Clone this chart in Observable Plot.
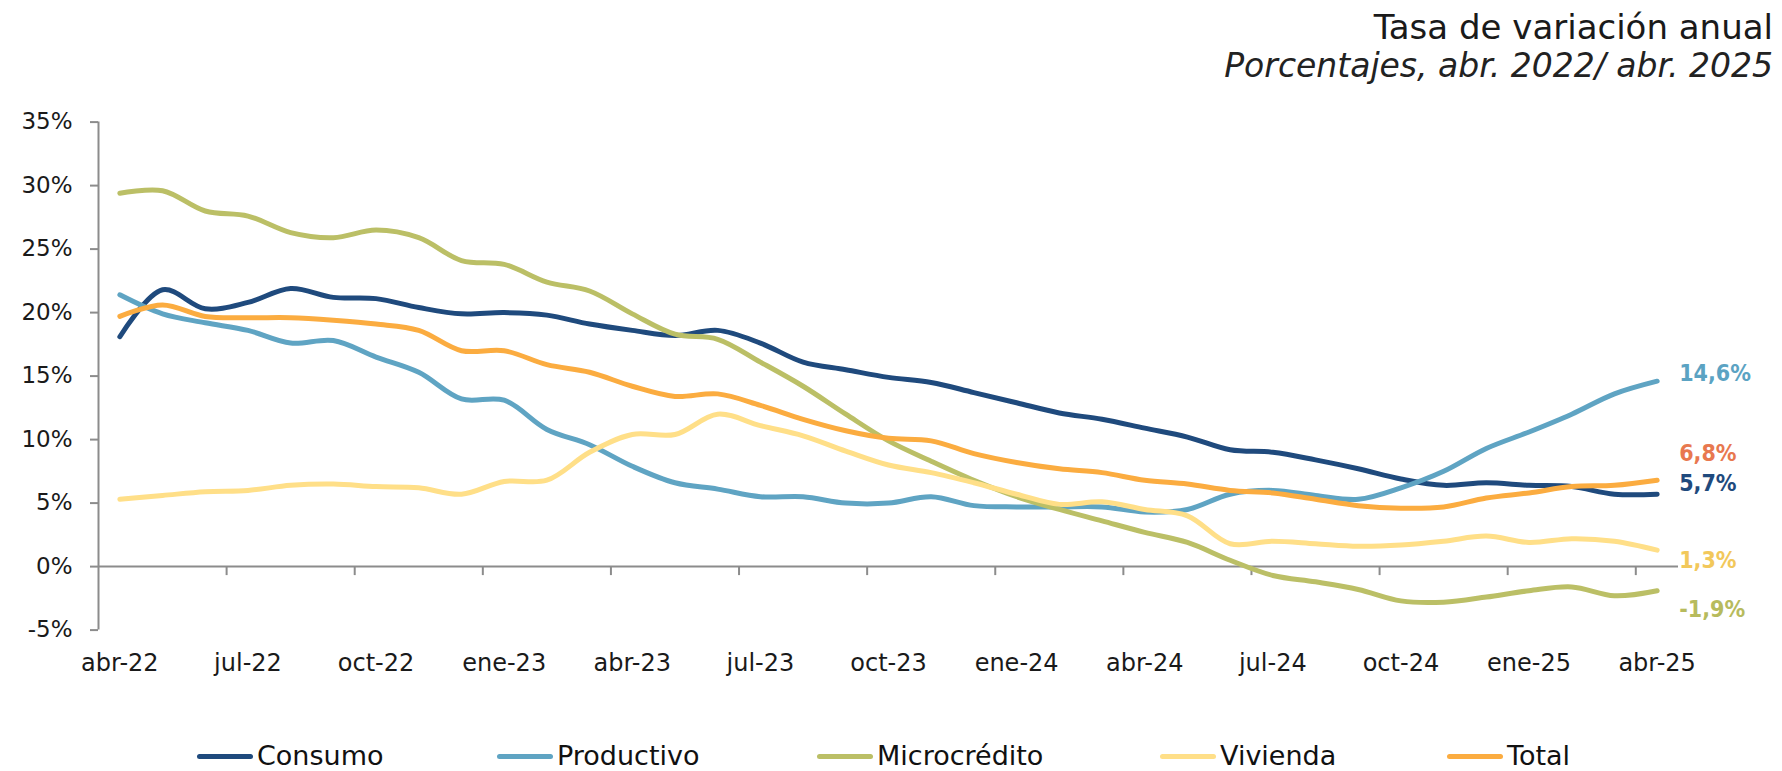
<!DOCTYPE html>
<html>
<head>
<meta charset="utf-8">
<script src="https://cdn.jsdelivr.net/npm/d3@7"></script>
<script src="https://cdn.jsdelivr.net/npm/@observablehq/plot@0.6"></script>
<style>
  html, body { margin: 0; padding: 0; background: #fff; }
  #wrap { position: relative; width: 1782px; height: 771px; font-family: "DejaVu Sans", sans-serif; color: #1a1a1a; }
  #head { position: relative; height: 92px; }
  #t1 { position: absolute; right: 9px; top: 10px; font-size: 34px; line-height: 34px; white-space: nowrap; }
  #t2 { position: absolute; right: 9px; top: 49px; font-size: 33px; line-height: 33px; font-style: italic; white-space: nowrap; color: #222; }
  #chart svg { display: block; }
  #legend { position: relative; height: 67px; }
  .item { position: absolute; top: 38px; height: 28px; display: flex; align-items: center; white-space: nowrap; }
  .sw { display: inline-block; width: 56px; height: 5px; border-radius: 3px; margin-right: 4px; }
  .lab { font-size: 27px; line-height: 28px; color: #111; }
</style>
</head>
<body>
<div id="wrap">
  <div id="head">
    <div id="t1">Tasa de variación anual</div>
    <div id="t2">Porcentajes, abr. 2022/ abr. 2025</div>
  </div>
  <div id="chart"></div>
  <div id="legend"></div>
</div>
<script>
// ---------- DATA ----------
const months = [
  "abr-22","may-22","jun-22","jul-22","ago-22","sep-22","oct-22","nov-22","dic-22",
  "ene-23","feb-23","mar-23","abr-23","may-23","jun-23","jul-23","ago-23","sep-23","oct-23","nov-23","dic-23",
  "ene-24","feb-24","mar-24","abr-24","may-24","jun-24","jul-24","ago-24","sep-24","oct-24","nov-24","dic-24",
  "ene-25","feb-25","mar-25","abr-25"
];
const seriesNames = ["Consumo", "Productivo", "Microcrédito", "Vivienda", "Total"];
const consumo = [18.1,21.8,20.3,20.8,21.9,21.2,21.1,20.4,19.9,20.0,19.8,19.1,18.6,18.2,18.6,17.6,16.1,15.5,14.9,14.5,13.7,12.9,12.1,11.6,10.9,10.2,9.2,9.0,8.4,7.7,6.9,6.4,6.6,6.4,6.3,5.7,5.7];
const productivo = [21.4,19.9,19.2,18.6,17.6,17.8,16.5,15.3,13.2,13.1,10.8,9.6,7.9,6.6,6.1,5.5,5.5,5.0,5.0,5.5,4.8,4.7,4.7,4.7,4.3,4.5,5.7,6.0,5.6,5.3,6.2,7.5,9.3,10.6,12.0,13.6,14.6];
const microcredito = [29.4,29.6,28.0,27.6,26.3,25.9,26.5,25.9,24.1,23.8,22.4,21.7,19.9,18.3,17.9,16.1,14.2,12.0,9.9,8.3,6.8,5.5,4.5,3.6,2.7,1.9,0.5,-0.7,-1.2,-1.8,-2.7,-2.8,-2.4,-1.9,-1.6,-2.3,-1.9];
const vivienda = [5.3,5.6,5.9,6.0,6.4,6.5,6.3,6.2,5.7,6.7,6.8,9.0,10.4,10.4,12.0,11.1,10.3,9.1,8.0,7.4,6.6,5.7,4.9,5.1,4.5,4.0,1.8,2.0,1.8,1.6,1.7,2.0,2.4,1.9,2.2,2.0,1.3];
const total = [19.7,20.6,19.7,19.6,19.6,19.4,19.1,18.6,17.0,17.0,15.9,15.3,14.2,13.4,13.6,12.7,11.6,10.7,10.1,9.9,8.9,8.2,7.7,7.4,6.8,6.5,6.0,5.8,5.3,4.8,4.6,4.7,5.4,5.8,6.3,6.4,6.8];
const yTicks = [-5, 0, 5, 10, 15, 20, 25, 30, 35];

// ---------- STYLE / LAYOUT ----------
const lineColors  = ["#1f4a7d", "#5fa4c3", "#bbbf66", "#ffdf88", "#fbac40"];
const labelColors = ["#1f4a7d", "#5ba3c3", "#b7bb5d", "#f2c85b", "#e8784f"];
const labelDy     = [-11, -8, 19, 11, -27];
const legendLeft  = [197, 497, 817, 1160, 1447];
const gray = "#8c8c8c";

const seriesValues = [consumo, productivo, microcredito, vivienda, total];
const series = seriesNames.map((name, k) => ({
  name, values: seriesValues[k], color: lineColors[k], labelColor: labelColors[k], dy: labelDy[k]
}));

const n = months.length;
const xDomain = [-0.5, n - 0.5];
const tickIdx = d3.range(0, n, 3);
const boundaries = tickIdx.slice(1).map(i => i - 0.5);
const fmt = v => v.toFixed(1).replace(".", ",") + "%";

const marks = [
  // axes
  Plot.ruleY([0], {x1: xDomain[0], x2: xDomain[1], stroke: gray, strokeWidth: 2}),
  Plot.ruleX(boundaries, {x: d => d, y1: 0, y2: 0, insetTop: 0, insetBottom: -9, stroke: gray, strokeWidth: 2}),
  Plot.ruleX([xDomain[0]], {y1: yTicks[0], y2: yTicks[yTicks.length - 1], stroke: gray, strokeWidth: 2}),
  Plot.axisY({ticks: yTicks, tickFormat: d => d + "%", tickSize: 8, tickPadding: 18, fontSize: 23,
              stroke: gray, strokeWidth: 2, fill: "#1a1a1a", label: null}),
  Plot.axisX({ticks: tickIdx, tickFormat: i => months[i], tickSize: 0, tickPadding: 24, fontSize: 24,
              fill: "#1a1a1a", label: null})
];
series.forEach(s => {
  marks.push(Plot.line(s.values.map((v, i) => ({i, v})), {
    x: "i", y: "v", stroke: s.color, strokeWidth: 5, curve: "catmull-rom",
    strokeLinecap: "round", strokeLinejoin: "round"
  }));
});
series.forEach(s => {
  marks.push(Plot.text([s], {
    x: () => n - 1, y: d => d.values[n - 1], text: d => fmt(d.values[n - 1]),
    fill: s.labelColor, dx: 22, dy: s.dy, textAnchor: "start",
    fontSize: 23, fontWeight: "bold", fontFamily: "DejaVu Sans Condensed, DejaVu Sans, sans-serif"
  }));
});

const chart = Plot.plot({
  width: 1782, height: 612,
  marginLeft: 98, marginRight: 104, marginTop: 29.6, marginBottom: 74.4,
  x: {domain: xDomain},
  y: {domain: [yTicks[0], yTicks[yTicks.length - 1]]},
  style: {fontFamily: "DejaVu Sans, sans-serif", background: "white", color: "#1a1a1a"},
  marks
});
document.getElementById("chart").appendChild(chart);

// legend
const leg = document.getElementById("legend");
series.forEach((s, k) => {
  const it = document.createElement("div");
  it.className = "item";
  it.style.left = legendLeft[k] + "px";
  const sw = document.createElement("span");
  sw.className = "sw"; sw.style.background = s.color;
  const lb = document.createElement("span");
  lb.className = "lab"; lb.textContent = s.name;
  it.appendChild(sw); it.appendChild(lb);
  leg.appendChild(it);
});
</script>
</body>
</html>
